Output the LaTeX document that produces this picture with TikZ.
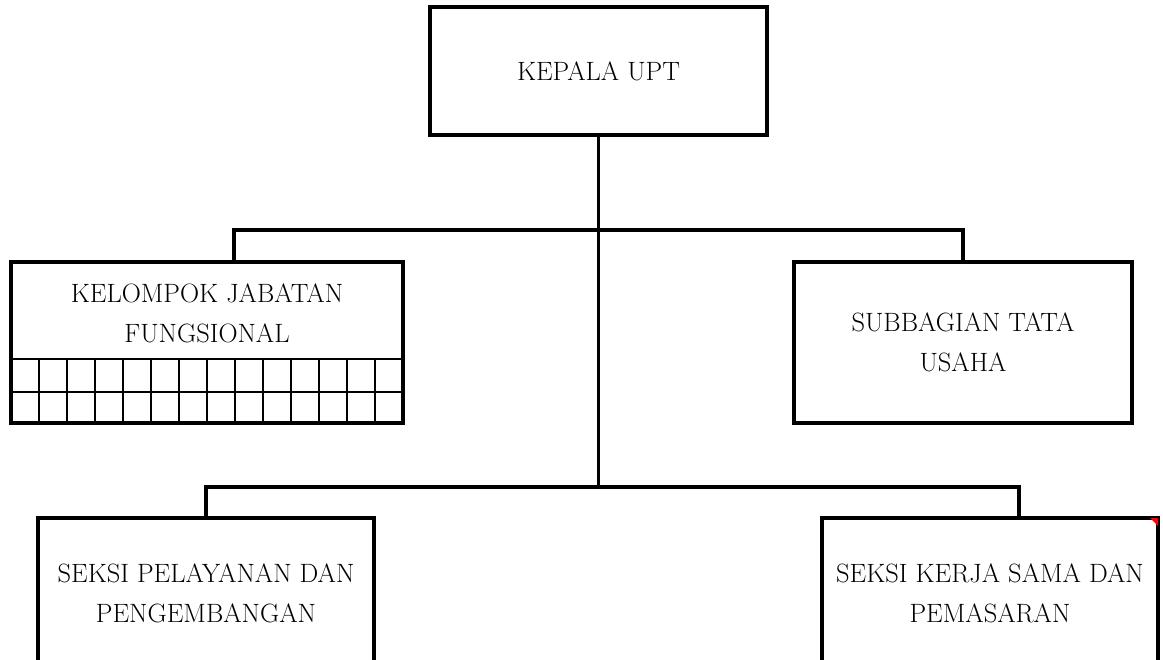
\documentclass[tikz,border=0pt]{standalone}
\begin{document}
\begin{tikzpicture}[
        x=1pt, y=-1pt,
        unit/.style={rectangle, draw, line width=4pt, inner sep=0pt, align=center,
            font=\fontsize{26.5}{40}\selectfont},
        teks/.style={align=center, inner sep=0pt, font=\fontsize{26.5}{40}\selectfont},
        link/.style={draw, line width=3.5pt},
        grid/.style={draw, line width=1.6pt}
    ]
    \useasboundingbox (0,0) rectangle (1163,660);
    \clip (0,0) rectangle (1163,660);
    \node[unit, minimum width=337pt, minimum height=128pt] (kepala) at (598.5,71) {KEPALA UPT};
    \node[unit, minimum width=392pt, minimum height=161pt] (kelompok) at (207,342.5) {};
    \node[teks] (kelompokteks) at (207,313) {KELOMPOK JABATAN\\FUNGSIONAL};
    \node[unit, minimum width=338pt, minimum height=161pt] (subbagian) at (963,342.5) {SUBBAGIAN TATA\\USAHA};
    \node[unit, minimum width=336pt, minimum height=150pt] (pelayanan) at (206,593) {SEKSI PELAYANAN DAN\\PENGEMBANGAN};
    \node[unit, minimum width=336pt, minimum height=150pt] (pemasaran) at (990,593) {SEKSI KERJA SAMA DAN\\PEMASARAN};
    \coordinate (cabang1) at (598.5,230);
    \coordinate (cabang2) at (598.5,487);
    \draw[grid] (11,359) -- (403,359);
    \draw[grid] (11,392) -- (403,392);
    \foreach \i in {1,...,13}
        \draw[grid] (11+28*\i,359) -- (11+28*\i,423);
    \draw[link] (kepala.south) -- (cabang2);
    \draw[link] ([xshift=27pt]kelompok.north) |- (cabang1) -| (subbagian.north);
    \draw[link] (pelayanan.north) |- (cabang2) -| ([xshift=29pt]pemasaran.north);
    \fill[red] ([xshift=-10pt,yshift=-2pt]pemasaran.north east) -- ([xshift=-2pt,yshift=-2pt]pemasaran.north east) -- ([xshift=-2pt,yshift=-10pt]pemasaran.north east) -- cycle;
\end{tikzpicture}
\end{document}
